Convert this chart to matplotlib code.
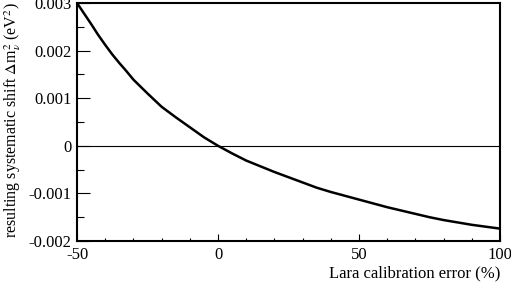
import matplotlib
matplotlib.use("Agg")
import matplotlib.pyplot as plt
from matplotlib.ticker import MultipleLocator

plt.rcParams['font.family'] = ['Liberation Serif', 'DejaVu Serif']
plt.rcParams['mathtext.fontset'] = 'stix'
plt.rcParams['axes.unicode_minus'] = False

# calibration error (%) and resulting shift (eV^2)
calib_error = [-50, -47.5, -45, -42.5, -40, -37.5, -35, -32.5, -30, -25,
               -20, -15, -10, -5, 0, 5, 10, 15, 20, 25, 30, 35, 40, 45,
               50, 55, 60, 65, 70, 75, 80, 85, 90, 95, 100]
shift = [0.00300, 0.00278, 0.00256, 0.00233, 0.00212, 0.00192, 0.00174,
         0.00157, 0.00139, 0.00110, 0.00082, 0.00060, 0.00039, 0.00018,
         0.0, -0.00016, -0.00031, -0.00043, -0.00055, -0.00066, -0.00077,
         -0.00088, -0.00097, -0.00105, -0.00113, -0.00121, -0.00129,
         -0.00136, -0.00143, -0.00150, -0.00156, -0.00161, -0.00166,
         -0.00170, -0.00174]

fig = plt.figure(figsize=(5.11, 2.87), dpi=100)
ax = fig.add_axes([77 / 511, 1 - 241 / 287, 423 / 511, 238 / 287])

ax.axhline(0, color="black", lw=0.8)
ax.plot(calib_error, shift, color="black", lw=1.8, solid_joinstyle="round")

ax.set_xlim(-50, 100)
ax.set_ylim(-0.002, 0.003)
ax.xaxis.set_major_locator(MultipleLocator(50))
ax.xaxis.set_minor_locator(MultipleLocator(10))
ax.yaxis.set_major_locator(MultipleLocator(0.001))
ax.yaxis.set_minor_locator(MultipleLocator(0.0005))
ax.yaxis.set_major_formatter(plt.FuncFormatter(lambda v, p: "0" if abs(v) < 1e-9 else f"{v:g}"))

ax.tick_params(axis="x", which="major", direction="in", length=5, width=0.8, labelsize=12, pad=4)
ax.tick_params(axis="x", which="minor", direction="in", length=2.5, width=0.8)
ax.tick_params(axis="y", which="major", direction="in", length=9, width=0.8, labelsize=12, pad=4)
ax.tick_params(axis="y", which="minor", direction="in", length=5, width=0.8)
for s in ax.spines.values():
    s.set_linewidth(1.5)

fig.text(500 / 511, 1 - 273 / 287, "Lara calibration error (%)", ha="right", va="center", fontsize=12)
fig.text(13 / 511, 1 - 120 / 287, r"resulting systematic shift $\Delta$m$_\nu^2$ (eV$^2$)",
         rotation=90, ha="center", va="center", fontsize=11.5)

fig.savefig("out.png", dpi=100)
